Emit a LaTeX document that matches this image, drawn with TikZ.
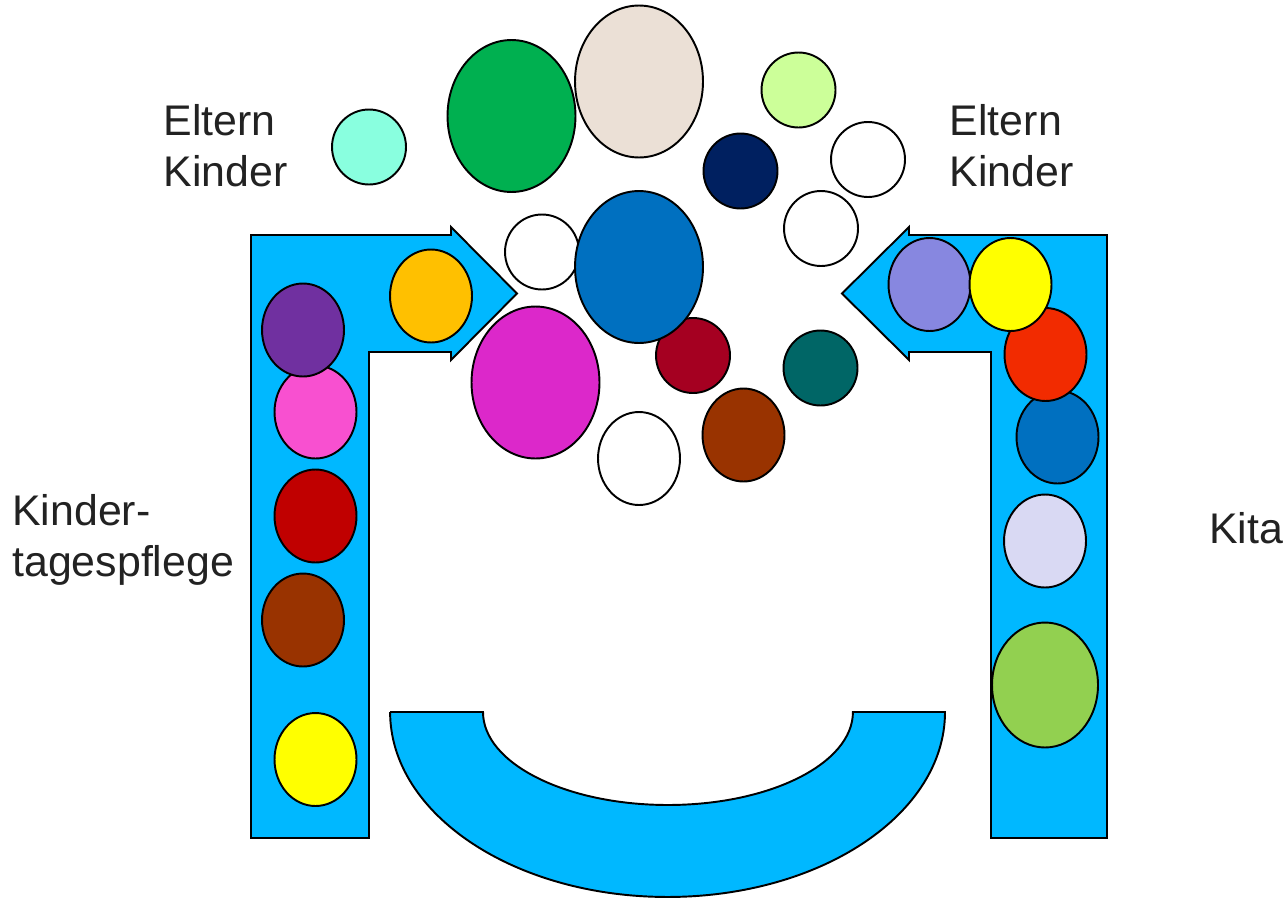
\documentclass[tikz,border=0pt]{standalone}
\usepackage{fontspec}
\setmainfont{Liberation Sans}
\usetikzlibrary{shapes.geometric}
\definecolor{armblue}{HTML}{00B8FF}
\definecolor{cPurple}{HTML}{7030A0}
\definecolor{cPink}{HTML}{F850D0}
\definecolor{cDarkRed}{HTML}{C00000}
\definecolor{cBrown}{HTML}{993300}
\definecolor{cYellow}{HTML}{FFFF00}
\definecolor{cOrange}{HTML}{FFC000}
\definecolor{cAqua}{HTML}{89FFDF}
\definecolor{cGreen}{HTML}{00B050}
\definecolor{cBeige}{HTML}{EBE0D6}
\definecolor{cLightGreen}{HTML}{CCFF99}
\definecolor{cNavy}{HTML}{002060}
\definecolor{cBlue}{HTML}{0070C0}
\definecolor{cMagenta}{HTML}{DC28CA}
\definecolor{cCrimson}{HTML}{A50021}
\definecolor{cTeal}{HTML}{006666}
\definecolor{cLavender}{HTML}{8787E0}
\definecolor{cRed}{HTML}{F22B00}
\definecolor{cPaleLav}{HTML}{D9D9F3}
\definecolor{cLeaf}{HTML}{92D050}
\definecolor{txt}{HTML}{222222}
\tikzset{
  ball/.style={ellipse, draw=black, line width=1.1pt, inner sep=0pt, fill=#1},
  sball/.style={ball=#1, minimum width=1.48cm, minimum height=1.5cm},
  mball/.style={ball=#1, minimum width=1.64cm, minimum height=1.86cm},
  lball/.style={ball=#1, minimum width=2.56cm, minimum height=3.04cm},
  xball/.style={ball=#1, minimum width=2.12cm, minimum height=2.5cm},
  arm/.style={draw=black, line width=1.1pt, fill=armblue, line join=miter},
  lbl/.style={inner sep=0pt, align=left, text=txt, anchor=north west,
    font=\fontsize{24.4pt}{29.3pt}\selectfont}
}
\begin{document}
\begin{tikzpicture}[x=0.02cm, y=0.02cm]
\useasboundingbox (0,0) rectangle (1287,-899);
% left L-shaped arrow
\draw[arm] (251,-235) -- (451,-235) -- (451,-227) -- (517,-293.5) -- (451,-360)
  -- (451,-352) -- (369,-352) -- (369,-838) -- (251,-838) -- cycle;
% right L-shaped arrow
\draw[arm] (1107,-235) -- (909,-235) -- (909,-227) -- (842,-293.5) -- (909,-360)
  -- (909,-352) -- (991,-352) -- (991,-838) -- (1107,-838) -- cycle;
% bottom bowl
\draw[arm] (390,-712) -- (483,-712)
  arc[start angle=180, end angle=360, x radius=3.7cm, y radius=1.86cm]
  -- (945,-712)
  arc[start angle=0, end angle=-180, x radius=5.55cm, y radius=3.7cm]
  -- cycle;
% balls in left arm
\node[mball=cPink] (l2) at (315.5,-412) {};
\node[mball=cPurple] (l1) at (303,-330) {};
\node[mball=cDarkRed] (l3) at (315.5,-516) {};
\node[mball=cBrown] (l4) at (303,-620) {};
\node[mball=cYellow] (l5) at (315.5,-759.5) {};
\node[mball=cOrange] (l6) at (431,-296) {};
% balls in right arm
\node[mball=cBlue] (r4) at (1057.5,-437) {};
\node[mball=cRed] (r3) at (1045.5,-354.5) {};
\node[mball=cLavender] (r1) at (929.5,-284.5) {};
\node[mball=cYellow] (r2) at (1010.5,-284.5) {};
\node[mball=cPaleLav] (r5) at (1045,-541) {};
\node[xball=cLeaf] (r6) at (1045,-685) {};
% balls in the middle
\node[sball=cAqua] (m1) at (369,-147) {};
\node[lball=cGreen] (m2) at (511.5,-116) {};
\node[lball=cBeige] (m3) at (639,-81.5) {};
\node[sball=cLightGreen] (m4) at (798.5,-90) {};
\node[sball=cNavy] (m5) at (740.5,-171) {};
\node[sball=white] (m6) at (868,-159.5) {};
\node[sball=white] (m7) at (821,-228.5) {};
\node[sball=white] (m8) at (542,-252) {};
\node[sball=cCrimson] (m10) at (693,-355.5) {};
\node[lball=cBlue] (m9) at (639,-267) {};
\node[lball=cMagenta] (m11) at (535.5,-382.5) {};
\node[sball=cTeal] (m12) at (820.5,-368) {};
\node[mball=white] (m13) at (639,-458.5) {};
\node[mball=cBrown] (m14) at (743.5,-435) {};
% labels
\node[lbl] (tEl) at (163.5,-104) {Eltern\\Kinder};
\node[lbl] (tEr) at (949.5,-104) {Eltern\\Kinder};
\node[lbl] (tKtp) at (12,-494) {Kinder-\\tagespflege};
\node[lbl] (tKita) at (1209,-512) {Kita};
\end{tikzpicture}
\end{document}
